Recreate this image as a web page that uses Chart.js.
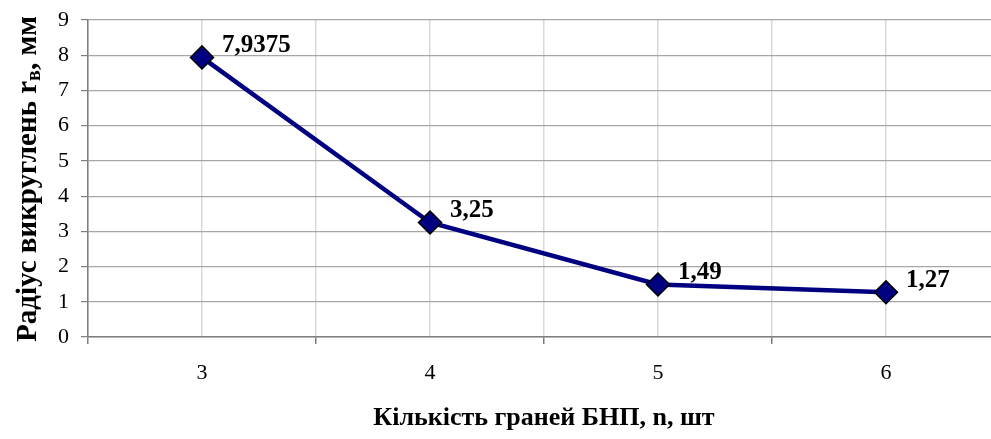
<!DOCTYPE html>
<html>
<head>
<meta charset="utf-8">
<script src="https://cdn.jsdelivr.net/npm/chart.js@4.4.1/dist/chart.umd.min.js"></script>
<style>
  html, body { margin: 0; padding: 0; background: #fff; overflow: hidden; }
  canvas { display: block; }
</style>
</head>
<body>
<canvas id="c" width="1016" height="439"></canvas>
<script>
// Number of faces of the cutting insert and the resulting rounding radius
const faceCounts = [3, 4, 5, 6];
const radiusValues = [7.9375, 3.25, 1.49, 1.27];
const radiusLabels = ['7,9375', '3,25', '1,49', '1,27'];
const yTicks = [0, 1, 2, 3, 4, 5, 6, 7, 8, 9];

const xTitle = 'Кількість граней БНП, n, шт';
const yTitleMain = 'Радіус викруглень r';
const yTitleSub = 'в';
const yTitleTail = ', мм';

const SERIF = '"Liberation Serif", "Times New Roman", serif';

// Value labels next to each marker
const valueLabels = {
  id: 'valueLabels',
  afterDatasetsDraw(chart) {
    const ctx = chart.ctx;
    const meta = chart.getDatasetMeta(0);
    ctx.save();
    ctx.font = 'bold 25px ' + SERIF;
    ctx.fillStyle = '#000';
    ctx.textAlign = 'left';
    ctx.textBaseline = 'middle';
    meta.data.forEach((pt, i) => {
      ctx.fillText(radiusLabels[i], pt.x + 20, pt.y - 12);
    });
    ctx.restore();
  }
};

// Axis titles (the y title carries a subscript)
const axisTitles = {
  id: 'axisTitles',
  afterDraw(chart) {
    const ctx = chart.ctx;
    const area = chart.chartArea;
    ctx.save();
    ctx.fillStyle = '#000';
    ctx.font = 'bold 26px ' + SERIF;
    ctx.textAlign = 'center';
    ctx.textBaseline = 'middle';
    ctx.fillText(xTitle, (area.left + area.right) / 2, 418);

    const mainFont = 'bold 29px ' + SERIF;
    const subFont = 'bold 20px ' + SERIF;
    ctx.font = mainFont;
    const w1 = ctx.measureText(yTitleMain).width;
    const w3 = ctx.measureText(yTitleTail).width;
    ctx.font = subFont;
    const w2 = ctx.measureText(yTitleSub).width;
    const total = w1 + w2 + w3;
    ctx.translate(26, 179);
    ctx.rotate(-Math.PI / 2);
    ctx.textAlign = 'left';
    ctx.textBaseline = 'alphabetic';
    let x = -total / 2;
    const base = 10;
    ctx.font = mainFont;
    ctx.fillText(yTitleMain, x, base);
    x += w1;
    ctx.font = subFont;
    ctx.fillText(yTitleSub, x, base + 4);
    x += w2;
    ctx.font = mainFont;
    ctx.fillText(yTitleTail, x, base);
    ctx.restore();
  }
};

new Chart(document.getElementById('c'), {
  type: 'line',
  data: {
    datasets: [{
      data: faceCounts.map((n, i) => ({ x: n, y: radiusValues[i] })),
      borderColor: '#000080',
      borderWidth: 4.5,
      backgroundColor: '#000080',
      pointStyle: 'rectRot',
      pointRadius: 11.5,
      pointHoverRadius: 11.5,
      pointBackgroundColor: '#000080',
      pointBorderColor: '#000000',
      pointBorderWidth: 1.5,
      tension: 0
    }]
  },
  options: {
    responsive: false,
    animation: false,
    layout: { padding: { top: 20, right: 0, bottom: 0, left: 0 } },
    plugins: {
      legend: { display: false },
      tooltip: { enabled: false }
    },
    scales: {
      x: {
        type: 'linear',
        min: faceCounts[0] - 0.5,
        max: faceCounts[faceCounts.length - 1] + 0.5,
        afterBuildTicks(scale) {
          const t = [];
          for (let v = scale.min; v <= scale.max + 1e-9; v += 0.5) t.push({ value: v });
          scale.ticks = t;
        },
        afterFit(scale) { scale.height = 102; },
        border: { color: '#7f7f7f', width: 1.5 },
        grid: {
          color: '#d9d9d9',
          lineWidth: 1.5,
          tickLength: 7,
          tickColor: (c) => (c.tick && Number.isInteger(c.tick.value)) ? 'rgba(0,0,0,0)' : '#7f7f7f'
        },
        ticks: {
          padding: 16,
          autoSkip: false,
          maxRotation: 0,
          color: '#000',
          font: { family: SERIF, size: 22 },
          callback: (v) => faceCounts.includes(v) ? String(v) : ''
        }
      },
      y: {
        min: yTicks[0],
        max: yTicks[yTicks.length - 1],
        afterBuildTicks(scale) { scale.ticks = yTicks.map(v => ({ value: v })); },
        afterFit(scale) {
          scale.width = 88;
          scale.paddingTop = 0;
          scale.paddingBottom = 0;
        },
        border: { color: '#7f7f7f', width: 1.5 },
        grid: {
          color: '#a6a6a6',
          lineWidth: 1.2,
          tickLength: 7,
          tickColor: '#7f7f7f'
        },
        ticks: {
          padding: 12,
          color: '#000',
          font: { family: SERIF, size: 22 }
        }
      }
    }
  },
  plugins: [valueLabels, axisTitles]
});
</script>
</body>
</html>
